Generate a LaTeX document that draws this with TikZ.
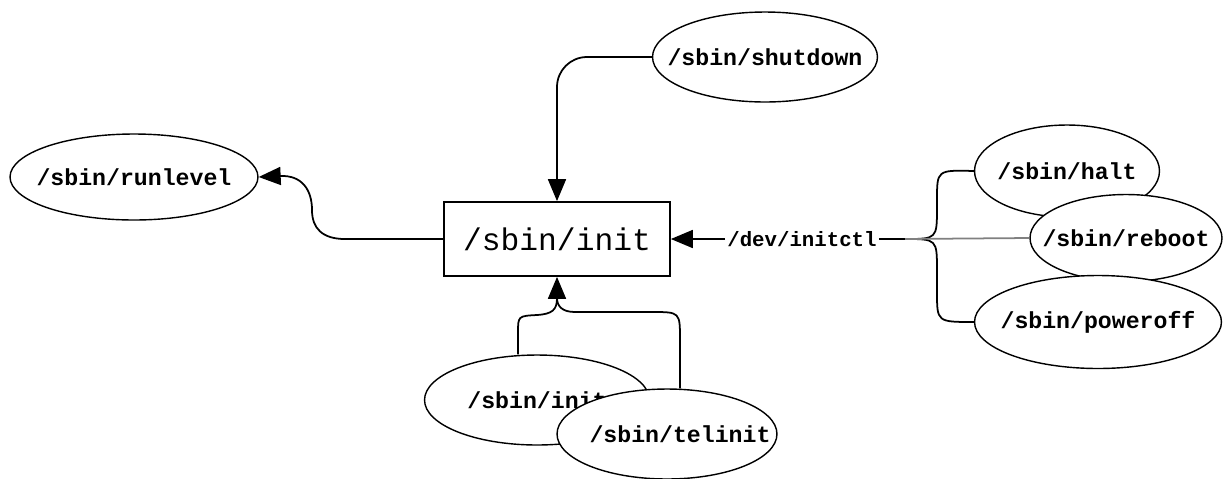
\documentclass[tikz,border=0pt]{standalone}
\usepackage{fontspec}
\setmonofont{Liberation Mono}
\usepackage{tikz}
\usetikzlibrary{arrows.meta, positioning, calc, shapes}

\tikzset{
  prog/.style={ellipse, draw, fill=white, line width=0.8pt, inner sep=0pt,
    font=\ttfamily\bfseries\fontsize{13.2}{15}\selectfont},
  link/.style={line width=1pt},
  tip/.style={-{Triangle[length=0.44cm, width=0.36cm]}},
}
\newcommand{\pname}[1]{\makebox[0pt]{#1}}

\begin{document}
\begin{tikzpicture}[x=0.02cm, y=-0.02cm]
  \useasboundingbox (0,0) rectangle (1225,478);

  \node[draw, fill=white, line width=1pt, minimum width=4.52cm, minimum height=1.48cm,
    font=\ttfamily\fontsize{17.8}{20}\selectfont] (init) at (557,239) {/sbin/init};

  \node[prog, minimum width=4.5cm, minimum height=1.8cm] (shutdown) at (765,57) {\pname{/sbin/shutdown}};
  \node[prog, minimum width=4.96cm, minimum height=1.72cm] (runlevel) at (134,177) {\pname{/sbin/runlevel}};
  \node[prog, minimum width=3.7cm, minimum height=1.84cm] (halt) at (1067,171) {\pname{/sbin/halt}};
  \node[prog, minimum width=3.84cm, minimum height=1.74cm] (reboot) at (1126,238) {\pname{/sbin/reboot}};
  \node[prog, minimum width=4.94cm, minimum height=1.86cm] (poweroff) at (1098,322) {\pname{/sbin/poweroff}};
  \node[prog, minimum width=4.5cm, minimum height=1.8cm] (initcmd) at (537,400) {\pname{/sbin/init}};
  \node[prog, minimum width=4.4cm, minimum height=1.8cm] (telinit) at (667,434) {\pname{\hspace{0.52cm}/sbin/telinit}};

  \node[inner sep=1pt, font=\ttfamily\bfseries\fontsize{11.8}{13}\selectfont] (ctl) at (802,239) {/dev/initctl};
  \coordinate (fork) at (905,239);

  % callers of init
  \draw[link, tip, rounded corners=0.6cm] (shutdown.west) -| (init.north);
  \draw[link, tip] (init.west) -- (345,239) .. controls (322,239) and (312,228) .. (312,210)
    .. controls (312,190) and (302,175) .. (runlevel.east);
  \draw[link, tip] ($(initcmd.north)+(-19,0)$) -- (518,333) .. controls (518,316) .. (537,315)
    .. controls (552,314) and (557,310) .. (init.south);
  \draw[link] ($(telinit.north)+(13,0)$) -- (680,340) .. controls (680,312) .. (652,312)
    -- (575,312) .. controls (562,312) and (557,306) .. (557,298);

  % the fifo
  \draw[link, tip] (ctl.west) -- (init.east);
  \draw[link] (ctl.east) -- (fork);
  \draw[link] (fork) .. controls (937,239) .. (937,207) -- (937,200) .. controls (937,170) .. (halt.west);
  \draw[link] (fork) .. controls (937,239) .. (937,271) -- (937,292) .. controls (937,322) .. (poweroff.west);
  \draw[gray, line width=1pt] (fork) -- (reboot.west);
\end{tikzpicture}
\end{document}
